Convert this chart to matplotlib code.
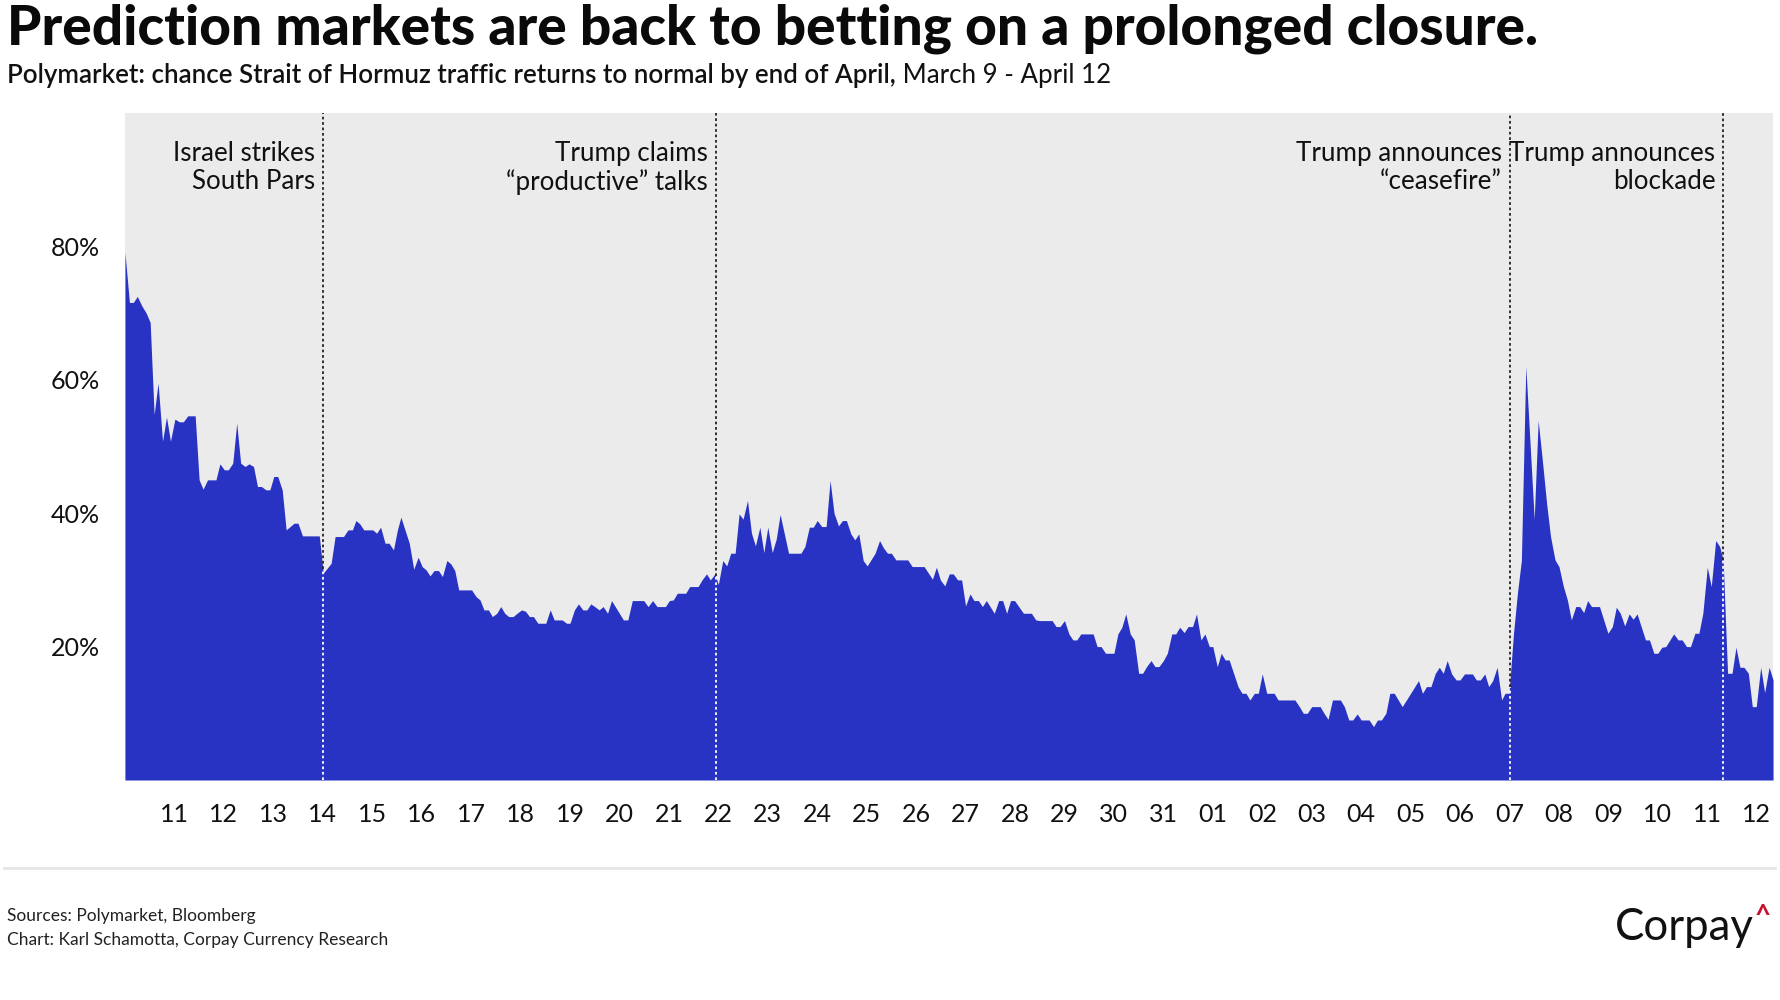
import matplotlib.pyplot as plt
import matplotlib.dates as mdates
import numpy as np
import pandas as pd

plt.rcParams['font.family'] = ['Lato', 'DejaVu Sans']

# days after 10 March 2026 00:00, chance in percent
days = [0.00, 0.09, 0.17, 0.25, 0.34, 0.43, 0.51, 0.59, 0.67, 0.76, 0.84, 0.92,
        1.01, 1.10, 1.18, 1.27, 1.42, 1.50, 1.58, 1.67, 1.84, 1.92, 2.01, 2.09,
        2.18, 2.26, 2.34, 2.43, 2.51, 2.60, 2.68, 2.76, 2.85, 2.93, 3.01, 3.09,
        3.18, 3.26, 3.42, 3.50, 3.59, 3.93, 4.01, 4.17, 4.25, 4.42, 4.51,
        4.60, 4.67, 4.75, 4.83, 5.01, 5.09, 5.17, 5.26, 5.34, 5.43, 5.51, 5.58,
        5.75, 5.84, 5.93, 6.01, 6.09, 6.17, 6.25, 6.34, 6.42, 6.51, 6.59, 6.67,
        6.75, 7.01, 7.10, 7.18, 7.26, 7.35, 7.43, 7.52, 7.60, 7.68, 7.76, 7.85,
        7.93, 8.02, 8.10, 8.18, 8.26, 8.35, 8.51, 8.60, 8.68, 8.84, 8.93, 9.00,
        9.09, 9.17,
        9.26, 9.34, 9.42, 9.50, 9.59, 9.67, 9.76, 9.84, 10.08, 10.17, 10.26,
        10.49, 10.58, 10.67, 10.76, 10.93, 11.01, 11.09, 11.17, 11.34, 11.42,
        11.59, 11.67, 11.76, 11.84, 11.93, 12.00, 12.09, 12.17, 12.25, 12.34,
        12.42, 12.50, 12.59, 12.67, 12.75, 12.84, 12.92, 13.00, 13.09, 13.17,
        13.25, 13.42, 13.67, 13.75, 13.84, 13.92,
        14.00, 14.09, 14.18, 14.26, 14.34, 14.43, 14.51, 14.59, 14.68, 14.76,
        14.84, 14.93, 15.01, 15.17, 15.26, 15.34, 15.42, 15.50, 15.59, 15.83,
        15.92, 16.16, 16.25, 16.33, 16.41, 16.49, 16.58, 16.67, 16.75, 16.84,
        16.92, 17.00, 17.09, 17.17, 17.26, 17.34, 17.42, 17.58, 17.67, 17.75,
        17.83, 17.91, 17.99, 18.17, 18.33, 18.42,
        18.50, 18.75, 18.83, 18.91, 19.00, 19.09, 19.17, 19.25, 19.33, 19.58,
        19.66, 19.74, 19.83, 20.00, 20.08, 20.16, 20.24, 20.33, 20.41, 20.50,
        20.58, 20.66, 20.75, 20.83, 20.91, 21.00, 21.08, 21.17, 21.25, 21.33,
        21.42, 21.50, 21.59, 21.67, 21.76, 21.84, 21.93, 22.00, 22.09, 22.17,
        22.25, 22.33, 22.42, 22.51, 22.59, 22.67, 22.75, 22.84, 22.92, 23.00,
        23.09,
        23.24, 23.32, 23.66, 23.75, 23.83, 23.91, 24.00, 24.17, 24.25, 24.33,
        24.42, 24.58, 24.66, 24.75, 24.83, 24.92, 25.00, 25.16, 25.25, 25.33,
        25.41, 25.50, 25.58, 25.67, 25.83, 26.00, 26.16, 26.24, 26.32, 26.41,
        26.50, 26.58, 26.66, 26.74, 26.83, 26.92, 27.00, 27.09, 27.25, 27.33,
        27.41, 27.50, 27.58, 27.66, 27.75,
        27.84, 27.91, 27.99, 28.08, 28.16, 28.24, 28.33, 28.50, 28.58, 28.67,
        28.75, 28.83, 28.92, 29.00, 29.09, 29.17, 29.25, 29.34, 29.42, 29.50,
        29.58, 29.66, 29.82, 29.99, 30.08, 30.16, 30.24, 30.33, 30.42, 30.50,
        30.58, 30.75, 30.83, 30.92, 31.00, 31.08, 31.16, 31.32, 31.41, 31.49,
        31.58, 31.66, 31.75, 31.83, 31.91, 32.00, 32.08, 32.17, 32.25, 32.32,
        32.41, 32.50, 32.58, 32.66, 32.74, 32.83, 32.91, 32.99, 33.08, 33.16,
        33.25, 33.33]

chance = [79.1, 71.6, 71.6, 72.5, 71.1, 70.0, 68.6, 54.8, 59.5, 50.8, 54.4, 50.8,
          54.1, 53.7, 53.7, 54.6, 54.6, 45.0, 43.6, 45.0, 45.0, 47.4, 46.5, 46.5,
          47.5, 53.5, 47.5, 47.0, 47.4, 47.0, 44.0, 44.0, 43.5, 43.5, 45.5, 45.5,
          43.5, 37.5, 38.5, 38.5, 36.6, 36.6, 31.0, 32.5, 36.5, 36.5, 37.5,
          37.5, 38.9, 38.4, 37.5, 37.5, 37.0, 37.9, 35.5, 35.5, 34.5, 37.5, 39.4,
          35.5, 31.6, 33.4, 32.0, 31.5, 30.6, 31.4, 31.4, 30.5, 32.9, 32.4, 31.4,
          28.5, 28.5, 27.5, 27.0, 25.5, 25.5, 24.5, 25.0, 26.0, 25.0, 24.5, 24.5,
          25.0, 25.5, 25.3, 24.5, 24.5, 23.5, 23.5, 25.5, 24.0, 24.0, 23.5, 23.5,
          25.5, 26.4,
          25.5, 25.5, 26.4, 26.0, 25.5, 26.0, 25.0, 26.9, 24.0, 24.0, 26.9,
          26.9, 26.0, 26.9, 26.0, 26.0, 26.9, 27.0, 28.0, 28.0, 29.0,
          29.0, 30.0, 30.9, 30.0, 30.9, 29.3, 32.9, 32.1, 34.0, 34.0,
          39.9, 39.1, 41.9, 37.0, 35.1, 37.9, 34.1, 37.9, 34.1, 36.1,
          39.8, 34.0, 34.0, 35.0, 37.9, 37.9,
          38.9, 38.0, 38.0, 44.9, 40.0, 38.1, 38.9, 38.9, 36.9, 36.0,
          36.9, 32.9, 32.1, 34.0, 35.9, 34.8, 34.0, 34.0, 33.0, 33.0,
          32.0, 32.0, 31.0, 30.1, 31.9, 30.0, 29.1, 30.9, 30.9, 30.0,
          30.0, 26.1, 27.9, 26.9, 26.9, 26.0, 26.9, 25.0, 26.9, 26.9,
          25.0, 26.9, 26.9, 25.0, 25.0, 24.0,
          23.9, 23.9, 23.0, 23.0, 23.9, 21.9, 21.0, 21.0, 21.9, 21.9,
          20.0, 20.0, 19.0, 19.0, 21.9, 22.9, 24.9, 21.9, 21.0, 16.0,
          16.0, 17.0, 17.9, 17.0, 17.0, 17.9, 19.0, 21.9, 21.9, 22.9,
          22.1, 23.0, 23.0, 24.9, 21.0, 21.9, 20.0, 20.0, 17.0, 19.0,
          18.0, 18.0, 16.0, 14.0, 13.0, 13.0, 12.0, 13.0, 13.0, 15.9,
          13.0,
          13.0, 12.0, 12.0, 11.0, 10.0, 10.0, 11.0, 11.0, 10.0, 9.1,
          12.0, 12.0, 11.0, 9.0, 9.0, 9.9, 9.0, 9.0, 8.0, 9.0,
          9.0, 10.0, 13.0, 13.0, 11.0, 13.0, 14.9, 13.0, 14.0, 14.0,
          16.0, 16.9, 16.0, 17.9, 15.9, 15.0, 15.0, 15.9, 15.9, 15.0,
          15.0, 15.9, 14.0, 14.9, 16.9,
          12.0, 13.0, 13.0, 21.9, 28.0, 32.9, 62.0, 39.1, 53.9, 47.5,
          41.5, 36.5, 33.0, 32.0, 29.0, 27.0, 24.0, 26.0, 26.0, 25.1,
          26.9, 26.0, 26.0, 22.0, 23.0, 25.9, 25.0, 23.1, 24.9, 24.1,
          24.9, 21.0, 21.0, 19.0, 19.0, 19.9, 20.0, 21.9, 21.0, 21.0,
          20.0, 20.0, 22.0, 22.0, 25.0, 31.9, 29.0, 35.9, 35.0, 33.0,
          16.0, 16.0, 19.9, 16.9, 16.9, 16.0, 11.0, 11.0, 16.9, 13.1,
          16.9, 15.0]

start = pd.Timestamp('2026-03-10')
times = start + pd.to_timedelta(days, unit='D')

events = ['2026-03-14 00:00', '2026-03-21 22:40', '2026-04-07 00:00', '2026-04-11 07:40']
event_labels = ['Israel strikes\nSouth Pars', 'Trump claims\n\u201cproductive\u201d talks',
                'Trump announces\n\u201cceasefire\u201d', 'Trump announces\nblockade']
event_days = [(pd.Timestamp(e) - start) / pd.Timedelta(days=1) for e in events]

ytick_vals = [20, 40, 60, 80]

fig = plt.figure(figsize=(17.8, 10), dpi=100)
ax = fig.add_axes([0.0702, 0.22, 0.9259, 0.667])
ax.set_facecolor('#ebebeb')

ax.fill_between(times, chance, 0, color='#2833c4', lw=0)

for e, lab, d in zip(events, event_labels, event_days):
    t = pd.Timestamp(e)
    top = np.interp(d, days, chance)
    ax.plot([t, t], [0, top], color='white', lw=1.3, ls=(0, (1.5, 1.5)))
    ax.plot([t, t], [top, 100], color='#222222', lw=1.3, ls=(0, (1.5, 1.5)))
    ax.annotate(lab, xy=(t, 95.8), xytext=(-5.5, 0), textcoords='offset points',
                ha='right', va='top', fontsize=18.7, linespacing=1.13, color='#111111')

ax.set_xlim(times[0], times[-1])
ax.set_ylim(0, 100)
ax.set_xticks(pd.date_range('2026-03-11', '2026-04-12'))
ax.xaxis.set_major_formatter(mdates.DateFormatter('%d'))
ax.set_yticks(ytick_vals)
ax.set_yticklabels([f'{v}%' for v in ytick_vals])
ax.tick_params(axis='both', length=0, labelsize=18, colors='#111111')
ax.tick_params(axis='x', pad=16.5)
ax.tick_params(axis='y', pad=18)
for s in ax.spines.values():
    s.set_visible(False)

fig.text(0.004, 0.955, 'Prediction markets are back to betting on a prolonged closure.',
         fontsize=39.6, fontweight='black', color='#0a0a0a', va='baseline')
sub = fig.text(0.004, 0.912, 'Polymarket: chance Strait of Hormuz traffic returns to normal by end of April,',
               fontsize=18.6, fontweight='semibold', color='#111111', va='bottom')
ax.annotate(' March 9 - April 12', xy=(1, 0), xycoords=sub, fontsize=18.6,
            color='#111111', va='bottom', ha='left', annotation_clip=False)

fig.add_artist(plt.Line2D([0.002, 0.997], [0.132, 0.132], transform=fig.transFigure,
                          color='#e6e6e6', lw=2))

fig.text(0.004, 0.079, 'Sources: Polymarket, Bloomberg', fontsize=12.5, color='#222222', va='baseline')
fig.text(0.004, 0.055, 'Chart: Karl Schamotta, Corpay Currency Research', fontsize=12.5,
         color='#222222', va='baseline')
fig.text(0.9075, 0.060, 'Corpay', fontsize=31.5, color='#111111', va='baseline')
fig.text(0.9905, 0.075, '^', fontsize=20, fontweight='bold', color='#c8102e', va='baseline', ha='center')

plt.savefig('out.png', dpi=100)
